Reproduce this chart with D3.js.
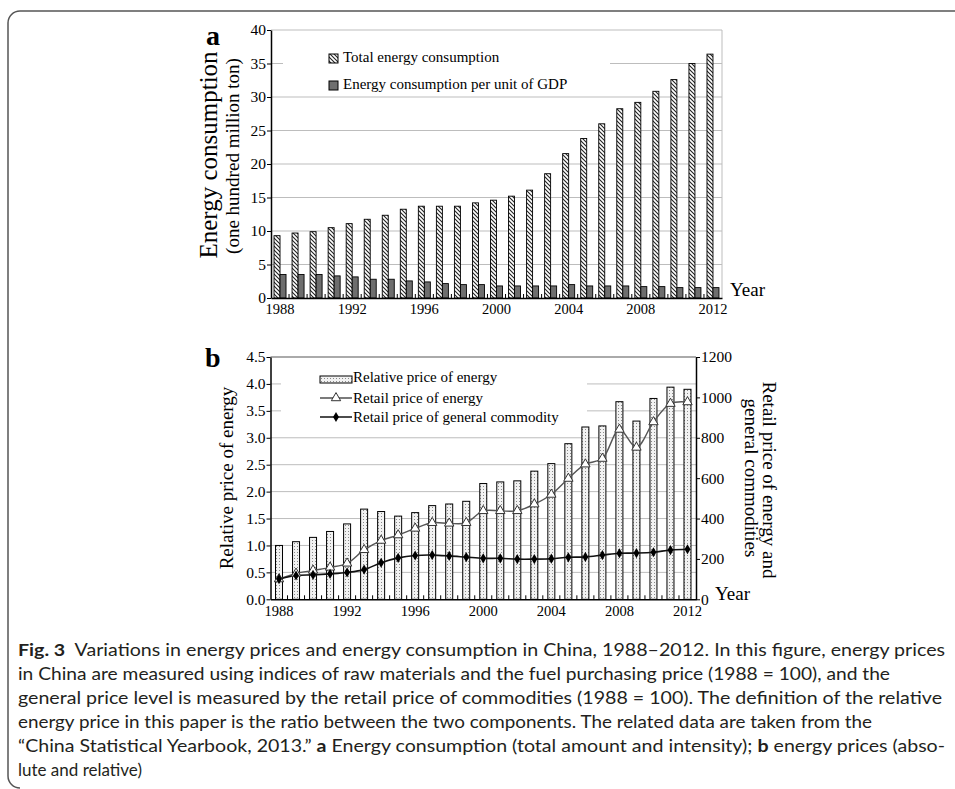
<!DOCTYPE html>
<html>
<head>
<meta charset="utf-8">
<script src="https://cdn.jsdelivr.net/npm/d3@7/dist/d3.min.js"></script>
<style>
  body { margin: 0; background: #fff; }
  svg text { font-family: "Liberation Serif", "Times New Roman", serif; fill: #000; }
  .caption text { font-family: Lato, "Open Sans", sans-serif; fill: #231f20; }
  .grid { stroke: #bdbdbd; stroke-width: 1; }
</style>
</head>
<body>
<div id="chart"></div>
<script>
// Years shared by both panels
var years = [1988, 1989, 1990, 1991, 1992, 1993, 1994, 1995, 1996, 1997, 1998, 1999,
  2000, 2001, 2002, 2003, 2004, 2005, 2006, 2007, 2008, 2009, 2010, 2011, 2012];
var yearLabels = [1988, 1992, 1996, 2000, 2004, 2008, 2012];

// Panel a: energy consumption (one hundred million ton)
var totalEnergy = [9.3, 9.7, 9.9, 10.5, 11.1, 11.75, 12.35, 13.25, 13.7, 13.7, 13.7, 14.2,
  14.6, 15.2, 16.1, 18.55, 21.55, 23.8, 26.0, 28.25, 29.2, 30.85, 32.6, 35.0, 36.4];
var energyPerGdp = [3.5, 3.5, 3.5, 3.3, 3.15, 2.8, 2.8, 2.55, 2.4, 2.15, 2.0, 2.0,
  1.8, 1.8, 1.8, 1.8, 2.0, 1.8, 1.8, 1.8, 1.7, 1.7, 1.55, 1.55, 1.55];
var ticksA = [0, 5, 10, 15, 20, 25, 30, 35, 40];

// Panel b: prices
var relativePrice = [1.0, 1.07, 1.15, 1.26, 1.40, 1.675, 1.63, 1.545, 1.61, 1.74, 1.77, 1.82,
  2.15, 2.18, 2.2, 2.38, 2.52, 2.89, 3.2, 3.22, 3.67, 3.31, 3.73, 3.94, 3.90];
var energyRetail = [100, 128, 143, 158, 178, 245, 291, 318, 351, 379, 376, 379,
  438, 438, 438, 471, 519, 598, 669, 697, 841, 752, 878, 969, 977];
var generalRetail = [100, 118, 121, 126, 133, 147, 181, 205, 217, 219, 215, 209,
  203, 203, 199, 199, 201, 208, 210, 219, 228, 229, 233, 244, 248];
var ticksBLeft = [0, 0.5, 1, 1.5, 2, 2.5, 3, 3.5, 4, 4.5];
var ticksBRight = [0, 200, 400, 600, 800, 1000, 1200];

var svg = d3.select("#chart")
  .append("svg")
  .attr("width", 955)
  .attr("height", 789);

// patterns for the bars
var defs = svg.append("defs");
var hatch = defs.append("pattern")
  .attr("id", "hatch")
  .attr("patternUnits", "userSpaceOnUse")
  .attr("width", 4)
  .attr("height", 4);
hatch.append("rect").attr("width", 4).attr("height", 4).attr("fill", "#fff");
hatch.append("path")
  .attr("d", "M-1,-1 L5,5 M3,-1 L5,1 M-1,3 L1,5")
  .attr("stroke", "#222")
  .attr("stroke-width", 1.1);

var dots = defs.append("pattern")
  .attr("id", "dots")
  .attr("patternUnits", "userSpaceOnUse")
  .attr("width", 3)
  .attr("height", 3);
dots.append("rect").attr("width", 3).attr("height", 3).attr("fill", "#f2f2f2");
dots.append("rect").attr("width", 1).attr("height", 1).attr("fill", "#8a8a8a");

// outer frame
svg.append("path")
  .attr("d", "M956,11 H20 A12,12 0 0 0 8,23 V776 A12,12 0 0 0 20,788")
  .attr("fill", "none")
  .attr("stroke", "#555")
  .attr("stroke-width", 1.5);

// ---------------- panel a ----------------
var xA = d3.scaleBand().domain(years).range([271, 722]);
var yA = d3.scaleLinear().domain([0, 40]).range([298, 30]);

var gA = svg.append("g");

gA.selectAll(".gridA")
  .data(ticksA.slice(1))
  .enter()
  .append("line")
  .attr("class", "grid")
  .attr("x1", 271)
  .attr("x2", 722)
  .attr("y1", d => yA(d))
  .attr("y2", d => yA(d));

gA.append("line")
  .attr("class", "grid")
  .attr("x1", 722).attr("x2", 722)
  .attr("y1", yA(40)).attr("y2", yA(0));

// legend background hides grid lines
gA.append("rect")
  .attr("x", 283).attr("y", 41)
  .attr("width", 327).attr("height", 52)
  .attr("fill", "#fff");

gA.selectAll(".total")
  .data(years)
  .enter()
  .append("rect")
  .attr("x", d => xA(d) + xA.bandwidth() / 2 - 6)
  .attr("y", (d, i) => yA(totalEnergy[i]))
  .attr("width", 6)
  .attr("height", (d, i) => yA(0) - yA(totalEnergy[i]))
  .attr("fill", "url(#hatch)")
  .attr("stroke", "#000")
  .attr("stroke-width", 0.9);

gA.selectAll(".pergdp")
  .data(years)
  .enter()
  .append("rect")
  .attr("x", d => xA(d) + xA.bandwidth() / 2)
  .attr("y", (d, i) => yA(energyPerGdp[i]))
  .attr("width", 6)
  .attr("height", (d, i) => yA(0) - yA(energyPerGdp[i]))
  .attr("fill", "#6e6e6e")
  .attr("stroke", "#000")
  .attr("stroke-width", 0.9);

// axes
var leftAxisA = d3.axisLeft(yA).tickValues(ticksA).tickSize(4).tickSizeOuter(0).tickPadding(1);
var axA = gA.append("g")
  .attr("transform", "translate(271,0)")
  .call(leftAxisA);
axA.selectAll("text").attr("font-size", 15.5);

var bottomAxisA = d3.axisBottom(xA).tickValues(yearLabels).tickSize(0).tickPadding(6);
var bxA = gA.append("g")
  .attr("transform", "translate(0,298)")
  .call(bottomAxisA);
bxA.selectAll("text").attr("font-size", 14.5);
bxA.select(".domain").attr("stroke-width", 1.5);
axA.select(".domain").attr("stroke-width", 1.5);

// small inward ticks between years
gA.selectAll(".minorA")
  .data(years.slice(1))
  .enter()
  .append("line")
  .attr("x1", d => xA(d)).attr("x2", d => xA(d))
  .attr("y1", 298).attr("y2", 294)
  .attr("stroke", "#000");

gA.append("text")
  .attr("x", 730).attr("y", 296)
  .attr("font-size", 19)
  .text("Year");

gA.append("text")
  .attr("x", 206).attr("y", 45)
  .attr("font-size", 28)
  .attr("font-weight", "bold")
  .text("a");

gA.append("text")
  .attr("transform", "translate(217,155) rotate(-90)")
  .attr("text-anchor", "middle")
  .attr("font-size", 25)
  .text("Energy consumption");

gA.append("text")
  .attr("transform", "translate(239,156) rotate(-90)")
  .attr("text-anchor", "middle")
  .attr("font-size", 19)
  .text("(one hundred million ton)");

// legend a
gA.append("rect")
  .attr("x", 329).attr("y", 54).attr("width", 9).attr("height", 9)
  .attr("fill", "url(#hatch)").attr("stroke", "#000");
gA.append("text")
  .attr("x", 343).attr("y", 62)
  .attr("font-size", 15)
  .text("Total energy consumption");
gA.append("rect")
  .attr("x", 329).attr("y", 81).attr("width", 9).attr("height", 9)
  .attr("fill", "#6e6e6e").attr("stroke", "#000");
gA.append("text")
  .attr("x", 343).attr("y", 89)
  .attr("font-size", 15)
  .text("Energy consumption per unit of GDP");

// ---------------- panel b ----------------
var xB = d3.scaleBand().domain(years).range([270.5, 696]);
var yB = d3.scaleLinear().domain([0, 4.5]).range([599.3, 357]);
var yR = d3.scaleLinear().domain([0, 1200]).range([599.3, 357]);

var gB = svg.append("g");

gB.selectAll(".gridB")
  .data(ticksBLeft.slice(1))
  .enter()
  .append("line")
  .attr("class", "grid")
  .attr("x1", 270.5)
  .attr("x2", 696)
  .attr("y1", d => yB(d))
  .attr("y2", d => yB(d));

gB.append("rect")
  .attr("x", 281).attr("y", 362)
  .attr("width", 306).attr("height", 66)
  .attr("fill", "#fff");

gB.selectAll(".rel")
  .data(years)
  .enter()
  .append("rect")
  .attr("x", d => xB(d) + xB.bandwidth() / 2 - 3.5)
  .attr("y", (d, i) => yB(relativePrice[i]))
  .attr("width", 7)
  .attr("height", (d, i) => yB(0) - yB(relativePrice[i]))
  .attr("fill", "url(#dots)")
  .attr("stroke", "#000")
  .attr("stroke-width", 1);

var cx = d => xB(d) + xB.bandwidth() / 2;

var lineEnergy = d3.line()
  .x(d => cx(d))
  .y((d, i) => yR(energyRetail[i]))
  .curve(d3.curveCatmullRom.alpha(0.5));
var lineGeneral = d3.line()
  .x(d => cx(d))
  .y((d, i) => yR(generalRetail[i]))
  .curve(d3.curveCatmullRom.alpha(0.5));

gB.append("path")
  .datum(years)
  .attr("d", lineEnergy)
  .attr("fill", "none")
  .attr("stroke", "#555")
  .attr("stroke-width", 1.4);

gB.append("path")
  .datum(years)
  .attr("d", lineGeneral)
  .attr("fill", "none")
  .attr("stroke", "#111")
  .attr("stroke-width", 1.6);

var tri = d3.symbol().type(d3.symbolTriangle).size(38);
var dia = d3.symbol().type(d3.symbolDiamond).size(30);

gB.selectAll(".tri")
  .data(years)
  .enter()
  .append("path")
  .attr("d", tri)
  .attr("transform", (d, i) => `translate(${cx(d)},${yR(energyRetail[i])})`)
  .attr("fill", "#fff")
  .attr("stroke", "#333")
  .attr("stroke-width", 1);

gB.selectAll(".dia")
  .data(years)
  .enter()
  .append("path")
  .attr("d", dia)
  .attr("transform", (d, i) => `translate(${cx(d)},${yR(generalRetail[i])})`)
  .attr("fill", "#000");

// top border
gB.append("line")
  .attr("x1", 270.5).attr("x2", 696)
  .attr("y1", 357).attr("y2", 357)
  .attr("stroke", "#777");

var leftAxisB = d3.axisLeft(yB).tickValues(ticksBLeft).tickSize(4).tickSizeOuter(0).tickPadding(1)
  .tickFormat(d3.format(".1f"));
var axB = gB.append("g")
  .attr("transform", "translate(270.5,0)")
  .call(leftAxisB);
axB.selectAll("text").attr("font-size", 15.5);

var rightAxisB = d3.axisRight(yR).tickValues(ticksBRight).tickSize(4).tickSizeOuter(0).tickPadding(1)
  .tickFormat(d3.format("d"));
var arB = gB.append("g")
  .attr("transform", "translate(696,0)")
  .call(rightAxisB);
arB.selectAll("text").attr("font-size", 15.5);

var bottomAxisB = d3.axisBottom(xB).tickValues(yearLabels).tickSize(0).tickPadding(6);
var bxB = gB.append("g")
  .attr("transform", "translate(0,599.3)")
  .call(bottomAxisB);
bxB.selectAll("text").attr("font-size", 14.5);
[axB, arB, bxB].forEach(a => a.select(".domain").attr("stroke-width", 1.5));

gB.selectAll(".minorB")
  .data(years.slice(1))
  .enter()
  .append("line")
  .attr("x1", d => xB(d)).attr("x2", d => xB(d))
  .attr("y1", 599.3).attr("y2", 595.3)
  .attr("stroke", "#000");

gB.append("text")
  .attr("x", 715).attr("y", 600)
  .attr("font-size", 19)
  .text("Year");

gB.append("text")
  .attr("x", 205).attr("y", 367)
  .attr("font-size", 28)
  .attr("font-weight", "bold")
  .text("b");

gB.append("text")
  .attr("transform", "translate(233,478) rotate(-90)")
  .attr("text-anchor", "middle")
  .attr("font-size", 19)
  .text("Relative price of energy");

gB.append("text")
  .attr("transform", "translate(763,480) rotate(90)")
  .attr("text-anchor", "middle")
  .attr("font-size", 19)
  .text("Retail price of energy and");

gB.append("text")
  .attr("transform", "translate(745,478) rotate(90)")
  .attr("text-anchor", "middle")
  .attr("font-size", 19)
  .text("general commodities");

// legend b
gB.append("rect")
  .attr("x", 320).attr("y", 376).attr("width", 32).attr("height", 7)
  .attr("fill", "url(#dots)").attr("stroke", "#000");
gB.append("text")
  .attr("x", 353).attr("y", 382)
  .attr("font-size", 15)
  .text("Relative price of energy");

gB.append("line")
  .attr("x1", 320).attr("x2", 352).attr("y1", 398).attr("y2", 398)
  .attr("stroke", "#333").attr("stroke-width", 1.3);
gB.append("path")
  .attr("d", tri)
  .attr("transform", "translate(336,398)")
  .attr("fill", "#fff").attr("stroke", "#333");
gB.append("text")
  .attr("x", 353).attr("y", 403)
  .attr("font-size", 15)
  .text("Retail price of energy");

gB.append("line")
  .attr("x1", 320).attr("x2", 352).attr("y1", 417).attr("y2", 417)
  .attr("stroke", "#111").attr("stroke-width", 1.5);
gB.append("path")
  .attr("d", dia)
  .attr("transform", "translate(336,417)")
  .attr("fill", "#000");
gB.append("text")
  .attr("x", 353).attr("y", 422)
  .attr("font-size", 15)
  .text("Retail price of general commodity");

// ---------------- caption ----------------
var captionLines = [
  [["Fig. 3", true], ["  Variations in energy prices and energy consumption in China, 1988–2012. In this figure, energy prices", false]],
  [["in China are measured using indices of raw materials and the fuel purchasing price (1988 = 100), and the", false]],
  [["general price level is measured by the retail price of commodities (1988 = 100). The definition of the relative", false]],
  [["energy price in this paper is the ratio between the two components. The related data are taken from the", false]],
  [["“China Statistical Yearbook, 2013.” ", false], ["a", true], [" Energy consumption (total amount and intensity); ", false], ["b", true], [" energy prices (abso-", false]],
  [["lute and relative)", false]]
];
// last line keeps its natural width
var captionWidths = [927, 872, 924, 854, 927, null];

var cap = svg.append("g").attr("class", "caption");
captionLines.forEach(function(parts, i) {
  var t = cap.append("text")
    .attr("x", 18)
    .attr("y", 656 + i * 24)
    .attr("font-size", 17)
    .style("white-space", "pre");
  if (captionWidths[i]) {
    t.attr("textLength", captionWidths[i])
      .attr("lengthAdjust", "spacingAndGlyphs");
  }
  parts.forEach(function(p) {
    t.append("tspan")
      .attr("font-weight", p[1] ? "bold" : "normal")
      .text(p[0]);
  });
});
</script>
</body>
</html>
